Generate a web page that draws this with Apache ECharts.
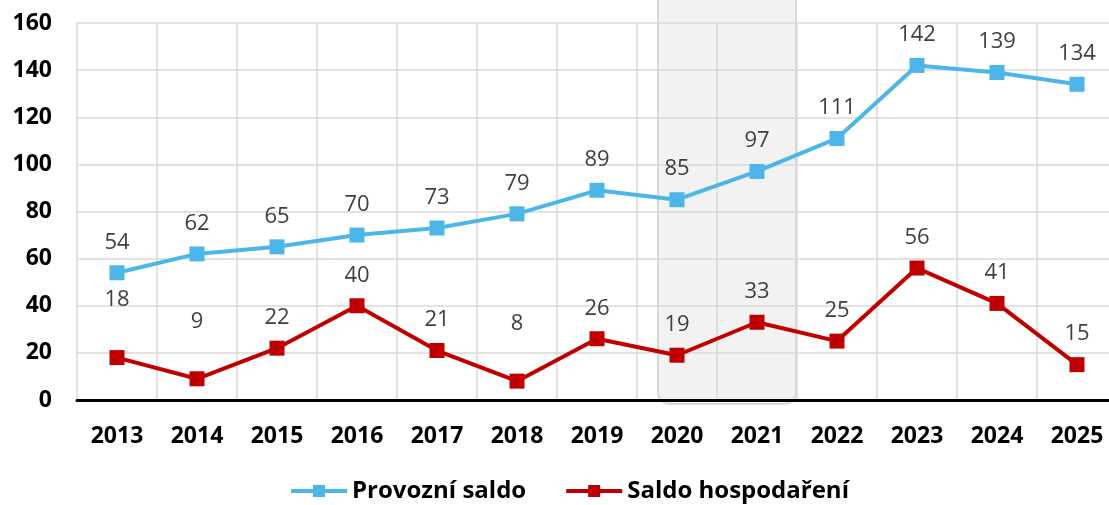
<!DOCTYPE html>
<html><head><meta charset="utf-8">
<script src="https://cdn.jsdelivr.net/npm/echarts@6/dist/echarts.min.js"></script>
<style>html,body{margin:0;padding:0;background:#fff;overflow:hidden;width:1109px;height:505px}#c{width:1120px;height:505px}</style>
</head><body><div id="c"></div>
<script>
const years = ['2013','2014','2015','2016','2017','2018','2019','2020','2021','2022','2023','2024','2025'];
const provozniSaldo = [54,62,65,70,73,79,89,85,97,111,142,139,134];
const saldoHospodareni = [18,9,22,40,21,8,26,19,33,25,56,41,15];
const shadeYears = ['2020','2021'];
const yTicks = {min:0, max:160, interval:20};

// labels that sit higher above their point in the original
const raisedRed = [0, 1, 5];

const font = '"Open Sans", "Noto Sans", sans-serif';
const labelBase = {show:true, position:'top', distance:12, color:'#404040', fontSize:22, fontFamily:font};
const redData = saldoHospodareni.map((v, i) => raisedRed.includes(i)
  ? {value:v, label:{distance:39}} : v);

const chart = echarts.init(document.getElementById('c'));
chart.setOption({
  animation:false,
  textStyle:{fontFamily:font},
  grid:{left:77, top:23, right:3, bottom:105, containLabel:false},
  legend:{
    bottom:-3, left:284, itemWidth:56, itemHeight:15, itemGap:38,
    lineStyle:{width:4},
    textStyle:{fontFamily:font, fontWeight:'bold', fontSize:24, color:'#000'},
    data:['Provozní saldo','Saldo hospodaření']
  },
  xAxis:{
    type:'category', data:years, boundaryGap:true,
    axisLine:{show:true, lineStyle:{color:'#000', width:3}},
    axisTick:{show:false},
    axisLabel:{color:'#000', fontWeight:'bold', fontSize:23, margin:25, fontFamily:font},
    splitLine:{show:true, lineStyle:{color:'#d9d9d9', width:1.5}}
  },
  yAxis:{
    type:'value', min:yTicks.min, max:yTicks.max, interval:yTicks.interval,
    axisLine:{show:false}, axisTick:{show:false},
    axisLabel:{color:'#000', fontWeight:'bold', fontSize:23, margin:25, fontFamily:font},
    splitLine:{show:true, lineStyle:{color:'#d9d9d9', width:1.5}}
  },
  series:[
    {
      type:'custom', z:-1, silent:true,
      data:[[shadeYears[0], shadeYears[1]]],
      renderItem:function(params, api){
        const a = api.coord([shadeYears[0], yTicks.max]);
        const b = api.coord([shadeYears[1], 0]);
        const x0 = a[0]-19, x1 = b[0]+39;
        return {type:'rect', shape:{x:x0, y:-20, width:x1-x0, height:b[1]+4+20, r:[0,0,12,12]},
          style:{fill:'#f2f2f2', stroke:'#d9d9d9', lineWidth:2}};
      }
    },
    {
      name:'Provozní saldo', type:'line', data:provozniSaldo,
      symbol:'rect', symbolSize:15,
      lineStyle:{color:'#4DB6E8', width:4}, itemStyle:{color:'#4DB6E8'},
      label:labelBase
    },
    {
      name:'Saldo hospodaření', type:'line', data:redData,
      symbol:'rect', symbolSize:15,
      lineStyle:{color:'#C00000', width:4}, itemStyle:{color:'#C00000'},
      label:labelBase
    }
  ]
});
</script></body></html>
